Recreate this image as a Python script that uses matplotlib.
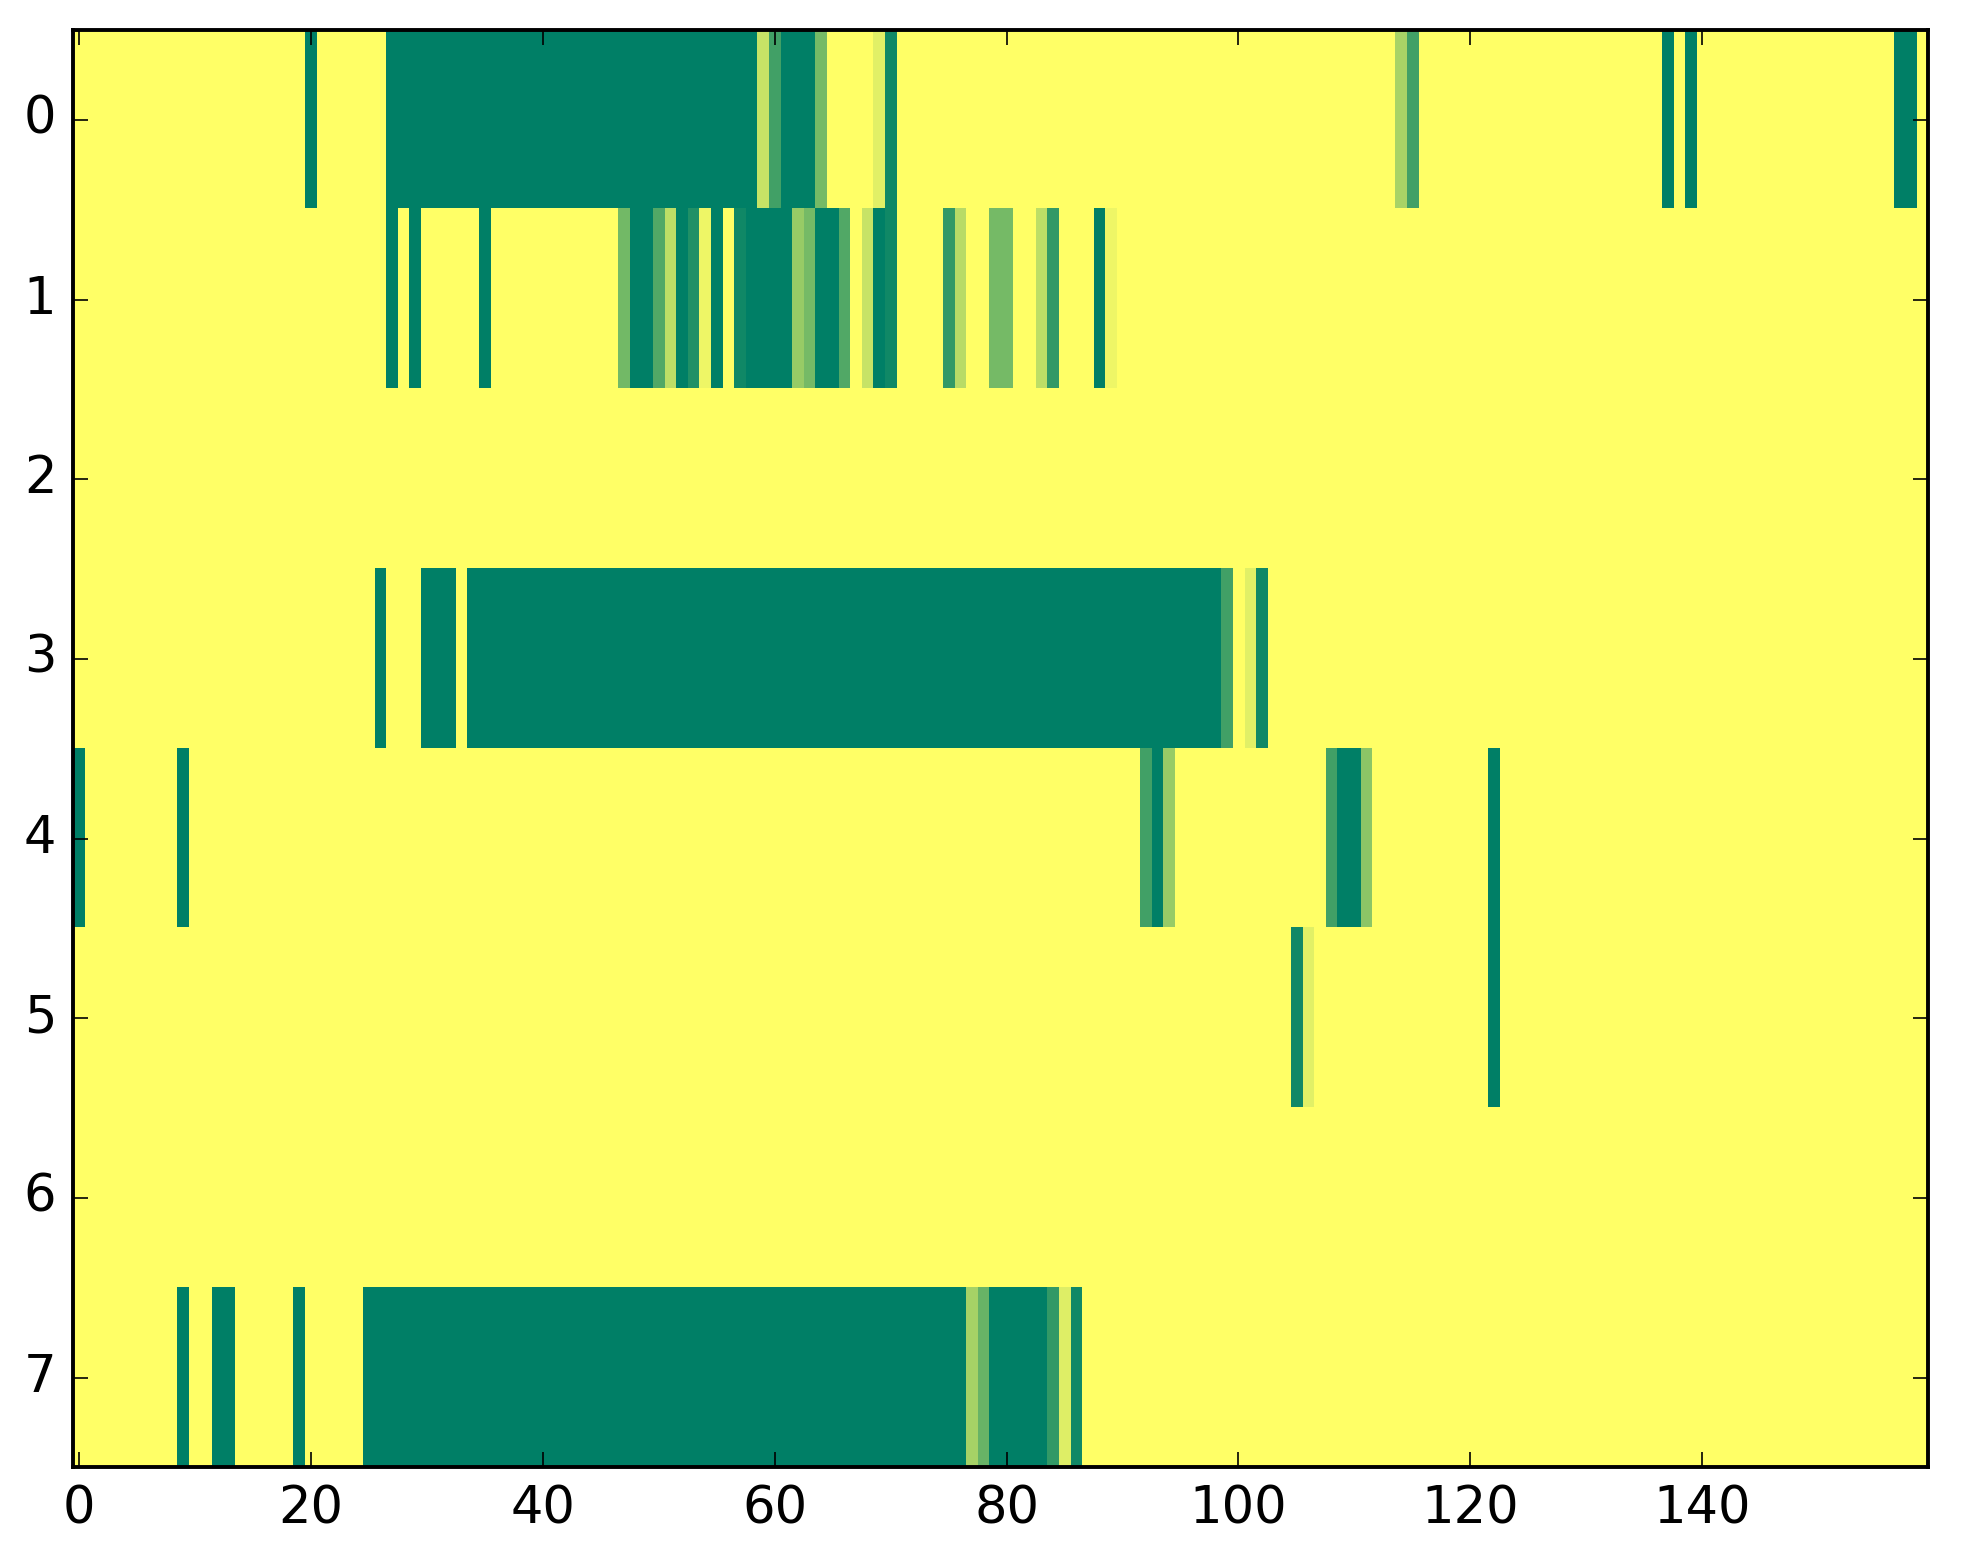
import numpy as np
import matplotlib
matplotlib.use('Agg')
import matplotlib.pyplot as plt

# Valores por linha: colunas com valor != 0 e os respectivos valores
n_cols = 160
n_rows = 8

row0_cols = [20] + list(range(27, 59)) + [59, 60, 61, 62, 63, 64, 69, 70, 114, 115, 137, 139, 157, 158]
row0_vals = [1.0] + [1.0] * 32 + [0.22, 0.74, 1.0, 1.0, 1.0, 0.54, 0.12, 0.93, 0.34, 0.74, 1.0, 1.0, 1.0, 1.0]

row1_cols = [27, 29, 35, 47, 48, 49, 50, 51, 52, 53, 54, 55, 57, 58, 59, 60, 61, 62, 63, 64, 65, 66,
             68, 69, 70, 75, 76, 79, 80, 83, 84, 88, 89]
row1_vals = [1.0, 1.0, 1.0, 0.55, 1.0, 1.0, 0.68, 0.26, 1.0, 0.87, 0.07, 1.0, 0.93, 1.0, 1.0, 1.0, 1.0, 0.41, 0.54, 1.0, 1.0, 0.68,
             0.22, 1.0, 0.93, 0.8, 0.28, 0.54, 0.54, 0.26, 0.8, 1.0, 0.07]

row2_cols = []
row2_vals = []

row3_cols = [26, 30, 31, 32] + list(range(34, 99)) + [99, 101, 102]
row3_vals = [1.0, 1.0, 1.0, 1.0] + [1.0] * 65 + [0.74, 0.12, 0.93]

row4_cols = [0, 9, 92, 93, 94, 108, 109, 110, 111, 122]
row4_vals = [1.0, 1.0, 0.74, 1.0, 0.41, 0.74, 1.0, 1.0, 0.45, 1.0]

row5_cols = [105, 106, 122]
row5_vals = [0.93, 0.12, 1.0]

row6_cols = []
row6_vals = []

row7_cols = [9, 12, 13, 19] + list(range(25, 77)) + [77, 78, 79, 80, 81, 82, 83, 84, 85, 86]
row7_vals = [1.0, 1.0, 1.0, 1.0] + [1.0] * 52 + [0.35, 0.59, 1.0, 1.0, 1.0, 1.0, 1.0, 0.8, 0.13, 0.93]

rows_cols = [row0_cols, row1_cols, row2_cols, row3_cols, row4_cols, row5_cols, row6_cols, row7_cols]
rows_vals = [row0_vals, row1_vals, row2_vals, row3_vals, row4_vals, row5_vals, row6_vals, row7_vals]

# Montar a matriz
dados = np.zeros((n_rows, n_cols))
for i in range(n_rows):
    for c, v in zip(rows_cols[i], rows_vals[i]):
        dados[i, c] = v

plt.style.use('classic')
dpi = 200
fig = plt.figure(figsize=(1963 / dpi, 1564 / dpi), dpi=dpi, facecolor='white')
ax = fig.add_axes([0.0372, 0.0618, 0.9452, 0.9190])
ax.imshow(dados, cmap='summer_r', vmin=0, vmax=1, aspect='auto', interpolation='nearest')

ax.set_xlim(-0.5, n_cols - 0.5)
ax.set_ylim(n_rows - 0.5, -0.5)
ax.set_xticks(np.arange(0, 160, 20))
ax.set_yticks(np.arange(0, 8))
ax.tick_params(direction='in', length=5.3, width=0.6, labelsize=18.4, pad=6,
               top=True, right=True)
for s in ax.spines.values():
    s.set_linewidth(1.4)

fig.savefig('out.png', dpi=dpi, facecolor='white')
